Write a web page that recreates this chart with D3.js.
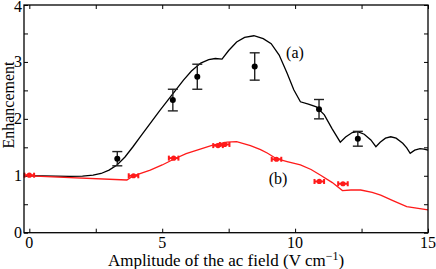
<!DOCTYPE html>
<html>
<head>
<meta charset="utf-8">
<script src="https://cdn.jsdelivr.net/npm/d3@7"></script>
</head>
<body style="margin:0; background:#fff">
<div id="plot"></div>
<script>
// Theory curve (a)
const curveAx = [0, 0.5, 1, 1.5, 2, 2.4, 2.7, 3.0, 3.3, 3.6, 3.9, 4.2, 4.55, 4.9, 5.2, 5.5, 5.8, 6.1, 6.45, 6.75, 7.0, 7.25,
    7.5, 7.8, 8.1, 8.45, 8.8, 9.1, 9.4, 9.7, 9.95, 10.2, 10.5, 10.8, 11.1, 11.4, 11.7,
    11.9, 12.15, 12.35, 12.6, 12.85, 13.04, 13.2, 13.4, 13.6, 13.8, 14.05, 14.2, 14.33, 14.5, 14.7, 14.85, 15];
const curveAy = [1.0, 1.0, 0.995, 0.99, 0.995, 1.01, 1.04, 1.1, 1.19, 1.33, 1.51, 1.70, 1.92, 2.14, 2.32, 2.50, 2.68, 2.84, 2.98, 3.04, 3.06, 3.05,
    3.2, 3.35, 3.43, 3.46, 3.41, 3.32, 3.12, 2.80, 2.51, 2.30, 2.26, 2.21, 2.07, 1.82, 1.59,
    1.68, 1.76, 1.775, 1.73, 1.63, 1.51, 1.59, 1.66, 1.685, 1.66, 1.57, 1.49, 1.395, 1.45, 1.478, 1.47, 1.45];

// Theory curve (b)
const curveBx = [0, 3.67, 3.92, 4.55, 5.0, 5.43, 5.9, 6.43, 6.9, 7.44, 7.8, 8.32, 8.7, 8.95, 9.3, 9.7, 10.2, 10.6, 10.96, 11.4, 11.78,
    12.1, 12.47, 12.9, 13.22, 13.7, 14.2, 15];
const curveBy = [1.0, 0.926, 1.0, 1.10, 1.19, 1.29, 1.39, 1.47, 1.54, 1.59, 1.60, 1.53, 1.46, 1.40, 1.30, 1.25, 1.19, 1.11, 1.01, 0.88, 0.74,
    0.75, 0.75, 0.71, 0.66, 0.56, 0.457, 0.40];

// Measured points (a) with vertical error
const pointsAx = [3.31, 5.40, 6.32, 8.48, 10.9, 12.36];
const pointsAy = [1.30, 2.33, 2.74, 2.92, 2.17, 1.65];
const pointsAerr = [0.125, 0.19, 0.22, 0.24, 0.17, 0.13];

// Measured points (b) with horizontal error
const pointsBx = [0, 3.92, 5.43, 7.1, 7.35, 9.3, 10.91, 11.8];
const pointsBy = [1.01, 1.0, 1.31, 1.53, 1.55, 1.29, 0.90, 0.86];
const pointsBerr = [0.18, 0.18, 0.18, 0.18, 0.18, 0.18, 0.18, 0.18];

const xTicks = [0, 5, 10, 15];
const xMinor = [2.5, 7.5, 12.5];
const yTicks = [0, 1, 2, 3, 4];
const yMinor = [0.5, 1.5, 2.5, 3.5];

const width = 436, height = 269;
const marginLeft = 24, marginRight = 8, marginTop = 5, marginBottom = 36.3;
const serif = "'Liberation Serif'";

const svg = d3.select("#plot").append("svg")
    .attr("width", width)
    .attr("height", height);

const x = d3.scaleLinear().domain([-0.2, 15]).range([marginLeft, width - marginRight]);
const y = d3.scaleLinear().domain([0, 4]).range([height - marginBottom, marginTop]);

const tickLen = 4;
const allX = xTicks.concat(xMinor);
const allY = yTicks.concat(yMinor);

// ticks on all four sides, pointing inward
svg.append("g")
    .attr("transform", `translate(0,${y(0)})`)
    .call(d3.axisBottom(x).tickValues(allX).tickSize(-tickLen).tickFormat(""))
    .call(g => g.select(".domain").remove());
svg.append("g")
    .attr("transform", `translate(0,${y(4)})`)
    .call(d3.axisTop(x).tickValues(allX).tickSize(-tickLen).tickFormat(""))
    .call(g => g.select(".domain").remove());
svg.append("g")
    .attr("transform", `translate(${x(-0.2)},0)`)
    .call(d3.axisLeft(y).tickValues(allY).tickSize(-tickLen).tickFormat(""))
    .call(g => g.select(".domain").remove());
svg.append("g")
    .attr("transform", `translate(${x(15)},0)`)
    .call(d3.axisRight(y).tickValues(allY).tickSize(-tickLen).tickFormat(""))
    .call(g => g.select(".domain").remove());
svg.selectAll(".tick line").attr("stroke", "#000").attr("stroke-width", 1);

// tick labels
svg.append("g").selectAll("text")
    .data(xTicks)
    .join("text")
    .attr("x", d => x(d))
    .attr("y", y(0) + 15)
    .attr("text-anchor", "middle")
    .style("font-family", serif)
    .attr("font-size", 16)
    .text(d => d);
svg.append("g").selectAll("text")
    .data(yTicks)
    .join("text")
    .attr("x", x(-0.2) - 2)
    .attr("y", d => Math.max(y(d) + 5, 12))
    .attr("text-anchor", "end")
    .style("font-family", serif)
    .attr("font-size", 16)
    .text(d => d);

// axis titles
const xl = svg.append("text")
    .attr("x", 226)
    .attr("y", 266)
    .attr("text-anchor", "middle")
    .style("font-family", serif)
    .attr("font-size", 17);
xl.append("tspan").text("Amplitude of the ac field (V cm");
xl.append("tspan").attr("dy", -6).attr("font-size", 12).text("\u22121");
xl.append("tspan").attr("dy", 6).text(")");

svg.append("text")
    .attr("transform", "translate(14,105) rotate(-90)")
    .attr("text-anchor", "middle")
    .style("font-family", serif)
    .attr("font-size", 16)
    .text("Enhancement");

// curves
const line = d3.line().x(d => x(d[0])).y(d => y(d[1]));
svg.append("path")
    .attr("d", line(curveAx.map((v, i) => [v, curveAy[i]])))
    .attr("fill", "none").attr("stroke", "#000").attr("stroke-width", 1.3);
svg.append("path")
    .attr("d", line(curveBx.map((v, i) => [v, curveBy[i]])))
    .attr("fill", "none").attr("stroke", "#ff1a1a").attr("stroke-width", 1.3);

// points (a)
const ga = svg.append("g").attr("stroke", "#222").attr("stroke-width", 1.4);
pointsAx.forEach((v, i) => {
    const cx = x(v), top = y(pointsAy[i] + pointsAerr[i]), bot = y(pointsAy[i] - pointsAerr[i]);
    ga.append("line").attr("x1", cx).attr("x2", cx).attr("y1", top).attr("y2", bot);
    ga.append("line").attr("x1", cx - 5).attr("x2", cx + 5).attr("y1", top).attr("y2", top);
    ga.append("line").attr("x1", cx - 5).attr("x2", cx + 5).attr("y1", bot).attr("y2", bot);
    ga.append("circle").attr("cx", cx).attr("cy", y(pointsAy[i])).attr("r", 3).attr("fill", "#000").attr("stroke", "none");
});

// points (b)
const gb = svg.append("g").attr("stroke", "#ff1a1a").attr("stroke-width", 2);
pointsBx.forEach((v, i) => {
    const cy = y(pointsBy[i]), l = x(v - pointsBerr[i]), r = x(v + pointsBerr[i]);
    gb.append("line").attr("x1", l).attr("x2", r).attr("y1", cy).attr("y2", cy);
    gb.append("line").attr("x1", l).attr("x2", l).attr("y1", cy - 2.5).attr("y2", cy + 2.5);
    gb.append("line").attr("x1", r).attr("x2", r).attr("y1", cy - 2.5).attr("y2", cy + 2.5);
    gb.append("circle").attr("cx", x(v)).attr("cy", cy).attr("r", 2.6).attr("fill", "#ff1a1a").attr("stroke", "none");
});

// series labels
svg.append("text").attr("x", 295).attr("y", 58).attr("text-anchor", "middle")
    .style("font-family", serif).attr("font-size", 16).text("(a)");
svg.append("text").attr("x", 278).attr("y", 184).attr("text-anchor", "middle")
    .style("font-family", serif).attr("font-size", 16).text("(b)");

// frame
svg.append("rect")
    .attr("x", x(-0.2)).attr("y", y(4))
    .attr("width", x(15) - x(-0.2)).attr("height", y(0) - y(4))
    .attr("fill", "none").attr("stroke", "#000").attr("stroke-width", 1.3);
</script>
</body>
</html>
